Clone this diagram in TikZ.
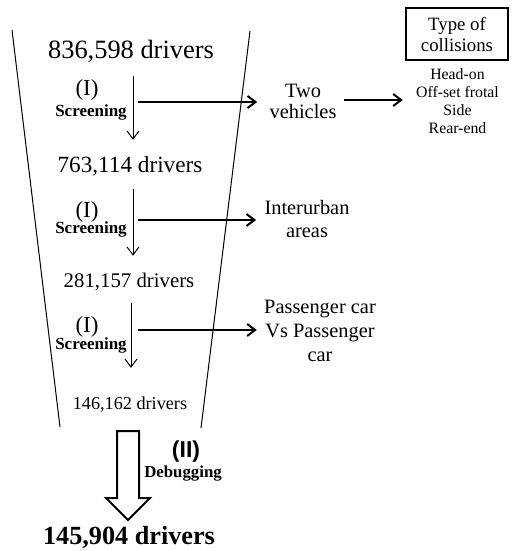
\documentclass[tikz,border=0pt]{standalone}
\usepackage{fontspec}
\setmainfont{Liberation Serif}
\setsansfont{Liberation Sans}
\usepackage{tikz}
\usetikzlibrary{arrows.meta, positioning, shapes.arrows}

\begin{document}
\begin{tikzpicture}[
    x=0.5pt, y=-0.5pt,
    count/.style={inner sep=2pt},
    stage/.style={font=\fontsize{11.5}{12}\selectfont, inner sep=0pt},
    filter/.style={font=\fontsize{8.5}{9}\selectfont\bfseries, inner sep=0pt},
    subset/.style={font=\fontsize{10.2}{10.5}\selectfont, align=center, inner sep=2pt},
    flow/.style={-{Straight Barb[length=4pt, width=6pt]}, line width=0.5pt},
    cut/.style={-{Straight Barb[length=4pt, width=6pt]}, line width=1pt},
    rim/.style={line width=0.5pt}
]
    \useasboundingbox (0,0) rectangle (512,551);

    % Funnel
    \draw[rim] (12,30) -- (60,427);
    \draw[rim] (250,31) -- (201,428);

    % Driver counts
    \node[count, font=\fontsize{13.2}{14}\selectfont] (d836) at (131,51) {836,598 drivers};
    \node[count, font=\fontsize{11.6}{12}\selectfont] (d763) at (130,166) {763,114 drivers};
    \node[count, font=\fontsize{10.4}{11}\selectfont] (d281) at (129,282) {281,157 drivers};
    \node[count, font=\fontsize{9.1}{10}\selectfont] (d146) at (130,405) {146,162 drivers};
    \node[count, font=\fontsize{13.1}{14}\selectfont\bfseries] (d145) at (129,537) {145,904 drivers};

    % Screening steps
    \node[stage] (i1) at (87,90) {(I)};
    \node[filter] (scr1) at (91,112) {Screening};
    \node[stage] (i2) at (87,212) {(I)};
    \node[filter] (scr2) at (91,229) {Screening};
    \node[stage] (i3) at (87,327) {(I)};
    \node[filter] (scr3) at (91,345) {Screening};

    % Criteria
    \node[subset] (two) at (303,101) {Two\\vehicles};
    \node[subset, font=\fontsize{10.2}{11.5}\selectfont] (urban) at (307,219) {Interurban\\areas};
    \node[subset, font=\fontsize{10.2}{12.2}\selectfont] (pcar) at (320,331) {Passenger car\\Vs Passenger\\car};

    % Collision types
    \node[draw, line width=1pt, minimum width=51pt, minimum height=26pt, align=center,
          font=\fontsize{9.4}{10.5}\selectfont] (ctype) at (457,34) {Type of\\collisions};
    \node[align=center, inner sep=2pt, font=\fontsize{7.9}{9}\selectfont] (clist) at (457.5,101)
        {Head-on\\Off-set frotal\\Side\\Rear-end};

    % Debugging
    \node[single arrow, draw, line width=1pt, rotate=-90, inner xsep=0pt, inner ysep=5pt,
          minimum height=44.5pt, single arrow head extend=5.5pt] (debug) at (128,470) {};
    \node[font=\fontsize{11.5}{12}\selectfont\sffamily\bfseries, inner sep=0pt] (ii) at (186,452) {(II)};
    \node[font=\fontsize{8.4}{9}\selectfont\bfseries, inner sep=0pt] (dbg) at (183,474) {Debugging};

    % Vertical flow
    \draw[flow, shorten <=4.5pt, shorten >=6pt] ([xshift=1pt]d836.south) -- ([xshift=1pt]d836.south |- d763.north);
    \draw[flow, shorten <=4.5pt, shorten >=6.5pt] ([xshift=1.5pt]d763.south) -- ([xshift=1.5pt]d763.south |- d281.north);
    \draw[flow, shorten <=4pt, shorten >=12.5pt] ([xshift=1pt]d281.south) -- ([xshift=1pt]d281.south |- d146.north);

    % Excluded branches
    \coordinate (s1) at (138,102);
    \coordinate (s2) at (138,220);
    \coordinate (s3) at (138,330);
    \draw[cut, shorten >=4pt] (s1) -- (s1 -| two.west);
    \draw[cut, shorten >=2pt] (s2) -- (s2 -| urban.west);
    \draw[cut, shorten >=1.5pt] (s3) -- (s3 -| pcar.west);
    \draw[cut, shorten <=1.5pt, shorten >=4.5pt] (two.east |- 0,100) -- (clist.west |- 0,100);

\end{tikzpicture}
\end{document}
